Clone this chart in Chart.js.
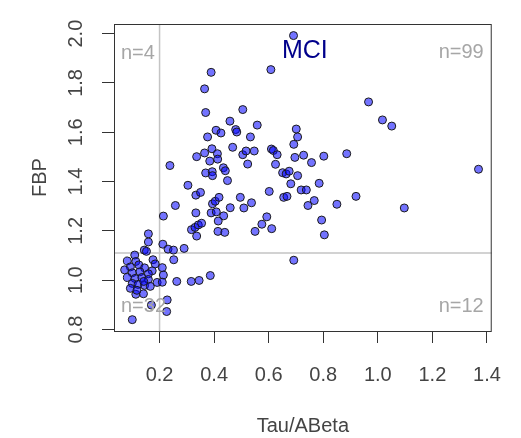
<!DOCTYPE html>
<html>
<head>
<meta charset="utf-8">
<script src="https://cdn.jsdelivr.net/npm/chart.js@4"></script>
<style>
  html, body { margin: 0; padding: 0; background: #fff; }
  #wrap { width: 521px; height: 438px; }
</style>
</head>
<body>
<div id="wrap"><canvas id="chart" width="521" height="438"></canvas></div>
<script>
// Tau/ABeta vs FBP (MCI)
const tauAbeta = [
  0.691, 0.608, 0.389, 0.365, 0.369, 0.505, 0.458, 0.558, 0.407, 0.425,
  0.479, 0.483, 0.376, 0.533, 0.701, 0.706, 0.692, 0.468, 0.392, 0.336,
  0.365, 0.412, 0.413, 0.384, 0.238, 0.505, 0.517, 0.547, 0.523, 0.610,
  0.617, 0.631, 0.696, 0.728, 0.757, 0.802, 0.886, 0.625, 0.369, 0.393,
  0.394, 0.434, 0.441, 0.449, 0.651, 0.664, 0.675, 0.706, 0.681, 0.785,
  0.719, 0.738, 0.602, 0.655, 0.667, 0.767, 0.744, 0.850, 0.920, 1.097,
  0.593, 0.575, 0.611, 0.794, 0.804, 0.550, 0.966, 1.017, 1.051, 1.369,
  0.304, 0.333, 0.350, 0.258, 0.214, 0.394, 0.404, 0.418, 0.389, 0.408,
  0.333, 0.435, 0.415, 0.459, 0.496, 0.509, 0.537, 0.317, 0.330, 0.342,
  0.354, 0.159, 0.414, 0.439, 0.336, 0.159, 0.212, 0.231, 0.251, 0.290,
  0.144, 0.152, 0.252, 0.109, 0.082, 0.113, 0.176, 0.210, 0.173, 0.214,
  0.191, 0.210, 0.263, 0.316, 0.345, 0.386, 0.113, 0.141, 0.228, 0.170,
  0.226, 0.100, 0.692, 0.093, 0.124, 0.145, 0.100, 0.128, 0.159, 0.082,
  0.110, 0.135, 0.159, 0.100, 0.121, 0.145, 0.093, 0.117, 0.166, 0.184,
  0.142, 0.072
];
const fbp = [
  1.992, 1.854, 1.843, 1.776, 1.680, 1.692, 1.645, 1.629, 1.608, 1.597,
  1.611, 1.601, 1.581, 1.581, 1.613, 1.581, 1.551, 1.539, 1.533, 1.501,
  1.516, 1.513, 1.491, 1.483, 1.465, 1.509, 1.524, 1.524, 1.471, 1.532,
  1.526, 1.509, 1.498, 1.507, 1.477, 1.503, 1.513, 1.470, 1.435, 1.440,
  1.424, 1.456, 1.444, 1.404, 1.436, 1.431, 1.442, 1.424, 1.391, 1.393,
  1.366, 1.366, 1.360, 1.336, 1.340, 1.323, 1.303, 1.308, 1.340, 1.293,
  1.257, 1.227, 1.209, 1.244, 1.184, 1.198, 1.723, 1.650, 1.625, 1.450,
  1.385, 1.345, 1.356, 1.303, 1.260, 1.310, 1.320, 1.336, 1.273, 1.277,
  1.273, 1.261, 1.240, 1.294, 1.336, 1.293, 1.314, 1.205, 1.214, 1.224,
  1.231, 1.188, 1.198, 1.194, 1.179, 1.155, 1.146, 1.126, 1.122, 1.129,
  1.122, 1.117, 1.083, 1.102, 1.078, 1.076, 1.083, 1.051, 1.038, 1.021,
  0.991, 0.992, 0.995, 0.995, 0.999, 1.019, 0.943, 0.945, 0.920, 0.899,
  0.873, 0.840, 1.081, 1.054, 1.062, 1.050, 1.030, 1.034, 1.026, 1.011,
  1.007, 1.011, 1.003, 0.987, 0.983, 0.979, 0.967, 0.959, 0.975, 1.066,
  0.995, 1.042
];
const xTicks = [0.2, 0.4, 0.6, 0.8, 1.0, 1.2, 1.4];
const yTicks = [0.8, 1.0, 1.2, 1.4, 1.6, 1.8, 2.0];
const cutX = 0.2;
const cutY = 1.11;
const groupLabel = 'MCI';
const quadrantCounts = ['n=4', 'n=99', 'n=32', 'n=12']; // UL, UR, LL, LR

const points = tauAbeta.map((x, i) => ({ x: x, y: fbp[i] }));

const FONT = 'Liberation Sans, Arial, sans-serif';

const rPlot = {
  id: 'rPlot',
  beforeDatasetsDraw(chart) {
    const { ctx, chartArea: a, scales: { x, y } } = chart;
    ctx.save();
    ctx.strokeStyle = '#c4c4c4';
    ctx.lineWidth = 1.5;
    const px = x.getPixelForValue(cutX);
    const py = y.getPixelForValue(cutY);
    ctx.beginPath();
    ctx.moveTo(px, a.top); ctx.lineTo(px, a.bottom);
    ctx.moveTo(a.left, py); ctx.lineTo(a.right, py);
    ctx.stroke();
    ctx.restore();
  },
  afterDraw(chart) {
    const { ctx, chartArea: a } = chart;
    ctx.save();
    ctx.strokeStyle = '#333';
    ctx.lineWidth = 1;
    ctx.strokeRect(a.left + 0.5, a.top + 0.5, a.right - a.left - 1, a.bottom - a.top);
    ctx.font = '20px ' + FONT;
    ctx.fillStyle = '#a6a6a6';
    ctx.textBaseline = 'middle';
    ctx.textAlign = 'left';
    ctx.fillText(quadrantCounts[0], a.left + 7, a.top + 29);
    ctx.fillText(quadrantCounts[2], a.left + 7, a.bottom - 25);
    ctx.textAlign = 'right';
    ctx.fillText(quadrantCounts[1], a.right - 8, a.top + 28);
    ctx.fillText(quadrantCounts[3], a.right - 8, a.bottom - 25);
    ctx.font = '25px ' + FONT;
    ctx.fillStyle = '#00008b';
    ctx.textAlign = 'center';
    ctx.fillText(groupLabel, (a.left + a.right) / 2 + 2, a.top + 27);
    ctx.restore();
  }
};

new Chart(document.getElementById('chart'), {
  type: 'scatter',
  data: {
    datasets: [{
      data: points,
      backgroundColor: 'rgba(0,0,255,0.55)',
      borderColor: '#1a1a1a',
      borderWidth: 1,
      pointRadius: 4,
      pointHoverRadius: 4
    }]
  },
  options: {
    responsive: false,
    animation: false,
    layout: { padding: { top: 15, right: 11, left: 0, bottom: 0 } },
    plugins: { legend: { display: false }, tooltip: { enabled: false } },
    scales: {
      x: {
        type: 'linear',
        min: 0.033,
        max: 1.4175,
        afterBuildTicks: s => { s.ticks = xTicks.map(v => ({ value: v })); },
        afterFit: s => { s.height = 107; },
        border: { display: false },
        grid: { drawOnChartArea: false, drawTicks: true, tickLength: 12, color: '#333' },
        ticks: {
          color: '#444',
          font: { family: FONT, size: 20 },
          padding: 20,
          maxRotation: 0,
          callback: v => v.toFixed(1)
        },
        title: {
          display: true,
          text: 'Tau/ABeta',
          color: '#444',
          font: { family: FONT, size: 20 },
          padding: { top: 0, bottom: 0 }
        }
      },
      y: {
        type: 'linear',
        min: 0.794,
        max: 2.039,
        afterBuildTicks: s => { s.ticks = yTicks.map(v => ({ value: v })); },
        afterFit: s => { s.width = 114; },
        border: { display: false },
        grid: { drawOnChartArea: false, drawTicks: true, tickLength: 12, color: '#333' },
        ticks: {
          color: '#444',
          font: { family: FONT, size: 20 },
          padding: 12,
          minRotation: 90,
          maxRotation: 90,
          crossAlign: 'center',
          callback: v => v.toFixed(1)
        },
        title: {
          display: true,
          text: 'FBP',
          color: '#444',
          font: { family: FONT, size: 20 },
          padding: { top: 28, bottom: 0 }
        }
      }
    }
  },
  plugins: [rPlot]
});
</script>
</body>
</html>
